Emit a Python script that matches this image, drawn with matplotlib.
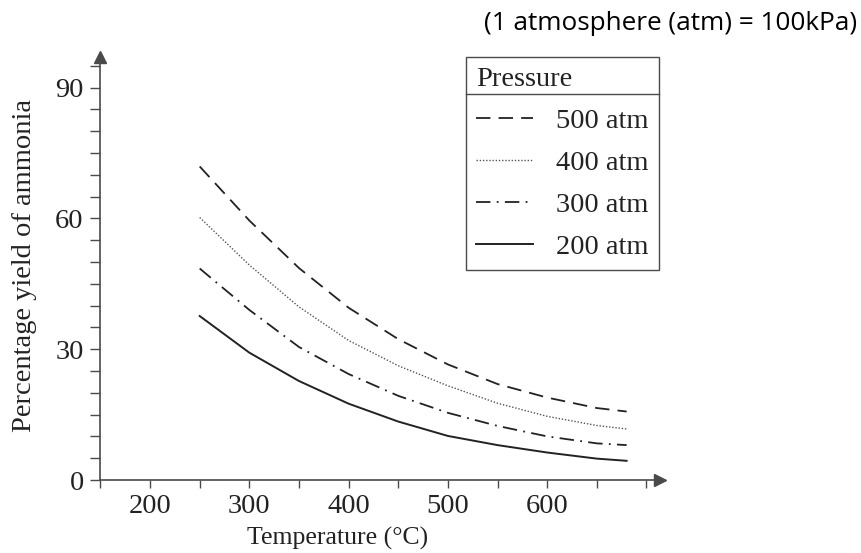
import matplotlib
matplotlib.use("Agg")
from matplotlib import pyplot as plt
from matplotlib.ticker import MultipleLocator
import numpy as np

# temperatures (degC) and percentage yield of ammonia
temps = [250, 300, 350, 400, 450, 500, 550, 600, 650, 680]
yield_500 = [71.9, 59.5, 48.6, 39.5, 32.3, 26.5, 22.0, 18.9, 16.5, 15.7]
yield_400 = [60.2, 49.3, 39.7, 32.0, 26.2, 21.6, 17.6, 14.6, 12.5, 11.7]
yield_300 = [48.5, 39.0, 30.5, 24.3, 19.3, 15.4, 12.4, 10.0, 8.4, 8.0]
yield_200 = [37.6, 29.2, 22.7, 17.5, 13.4, 10.1, 8.0, 6.3, 4.9, 4.4]
labels = ["500 atm", "400 atm", "300 atm", "200 atm"]
xticks = [200, 300, 400, 500, 600]
yticks = [0, 30, 60, 90]

plt.rcParams["font.family"] = "serif"
plt.rcParams["font.serif"] = ["Liberation Serif", "DejaVu Serif"]

ink = "#222222"
axis_col = "#4a4a4a"

fig = plt.figure(figsize=(8.61, 5.53), dpi=100)
W, H = 861.0, 553.0
ax = fig.add_axes([100.4 / W, (H - 480) / H, 560.0 / W, 423.0 / H])

styles = [(0, (8, 4.5)), (0, (1, 1.3)), (0, (8, 3.5, 1, 3.5)), "-"]
widths = [1.3, 1.0, 1.3, 1.4]
colors = [ink, "#555555", ink, ink]
series = [yield_500, yield_400, yield_300, yield_200]
handles = []
for ys, ls, lw, c, lab in zip(series, styles, widths, colors, labels):
    h, = ax.plot(temps, ys, linestyle=ls, lw=lw, color=c, label=lab)
    handles.append(h)

ax.set_xlim(150, 714)
ax.set_ylim(0, 97)

for s in ["top", "right"]:
    ax.spines[s].set_visible(False)
for s in ["left", "bottom"]:
    ax.spines[s].set_color(axis_col)
    ax.spines[s].set_linewidth(1.2)

# arrow heads on the axes
ax.plot(0, 1, marker="^", ms=8, color=axis_col, transform=ax.transAxes, clip_on=False)
ax.plot(1, 0, marker=">", ms=8, color=axis_col, transform=ax.transAxes, clip_on=False)

ax.set_xticks(xticks)
ax.set_yticks(yticks)
ax.xaxis.set_minor_locator(MultipleLocator(50))
ax.yaxis.set_minor_locator(MultipleLocator(5))
ax.tick_params(axis="both", which="both", color=axis_col, width=1.0, labelsize=20.5,
               labelcolor=ink)
ax.tick_params(axis="x", which="both", length=6, pad=4)
ax.tick_params(axis="y", which="both", length=7, pad=5)

ax.set_xlabel("Temperature (°C)", fontsize=18.5, color=ink)
ax.set_ylabel("Percentage yield of ammonia", fontsize=20.5, color=ink)
ax.xaxis.set_label_coords((338 - 100.4) / 560, -0.11)
ax.yaxis.set_label_coords((37 - 100.4) / 560, 0.508)

leg = ax.legend(handles=handles, title="Pressure", loc="upper left",
                bbox_to_anchor=(466 / W, 1 - 57 / H), bbox_transform=fig.transFigure,
                borderaxespad=0, fontsize=20.5, title_fontsize=20.5, alignment="left",
                handlelength=2.0, handletextpad=0.8, labelspacing=0.56,
                borderpad=0.36, fancybox=False, framealpha=1, edgecolor=axis_col)
leg.get_frame().set_linewidth(1.0)
for t in leg.get_texts():
    t.set_color(ink)
leg.get_title().set_color(ink)

# separator line under the legend title
fig.canvas.draw()
box = leg.get_window_extent()
tb = leg.get_title().get_window_extent()
ysep = (tb.y0 - 2) / H
fig.add_artist(plt.Line2D([box.x0 / W, box.x1 / W], [ysep, ysep],
                          color=axis_col, lw=1.0))

fig.text(857 / W, 1 - 23 / H, "(1 atmosphere (atm) = 100kPa)", ha="right", va="center",
         fontsize=18.8, family=["Open Sans", "DejaVu Sans"], color="black")

fig.savefig("out.png", dpi=100)
